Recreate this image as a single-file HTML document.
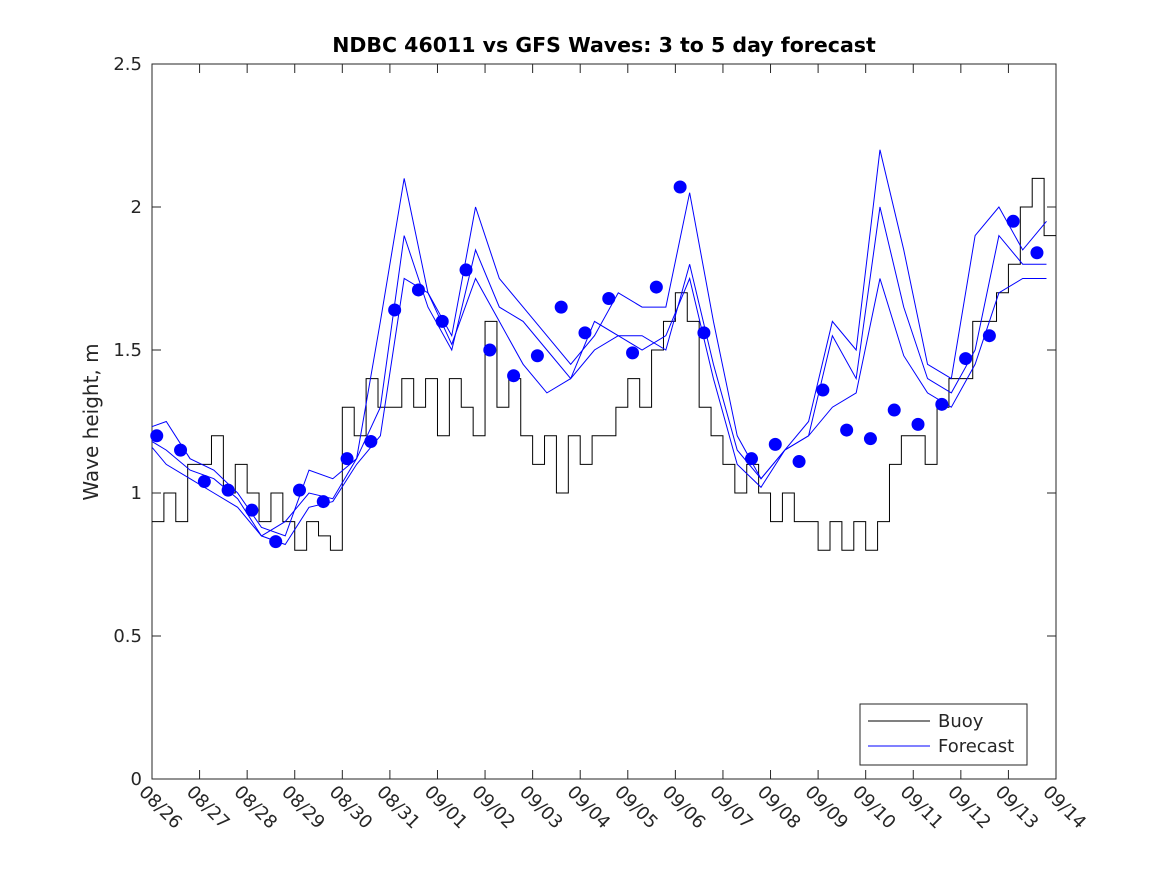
<!DOCTYPE html>
<html><head><meta charset="utf-8"><style>
body{margin:0;background:#fff;}
svg text{font-family:"DejaVu Sans","Liberation Sans",sans-serif;fill:#262626;}
</style></head><body>
<svg id="chart" width="1167" height="875">
<rect width="1167" height="875" fill="#fff"/>
<defs><clipPath id="clip"><rect x="152" y="64" width="904" height="715"/></clipPath></defs>
<text x="604" y="52" text-anchor="middle" font-size="20.5" font-weight="bold" style="fill:#000">NDBC 46011 vs GFS Waves: 3 to 5 day forecast</text>
<text transform="translate(98,422) rotate(-90)" text-anchor="middle" font-size="20">Wave height, m</text>
<g id="plot"></g>
</svg>
<script>
const dateLabels=["08/26","08/27","08/28","08/29","08/30","08/31","09/01","09/02","09/03","09/04","09/05","09/06","09/07","09/08","09/09","09/10","09/11","09/12","09/13","09/14"];
const yTicks=[0,0.5,1,1.5,2,2.5];
const buoy=[0.9,1.0,0.9,1.1, 1.1,1.2,1.0,1.1, 1.0,0.9,1.0,0.9, 0.8,0.9,0.85,0.8, 1.3,1.2,1.4,1.3, 1.3,1.4,1.3,1.4, 1.2,1.4,1.3,1.2, 1.6,1.3,1.4,1.2, 1.1,1.2,1.0,1.2, 1.1,1.2,1.2,1.3, 1.4,1.3,1.5,1.6, 1.7,1.6,1.3,1.2, 1.1,1.0,1.1,1.0, 0.9,1.0,0.9,0.9, 0.8,0.9,0.8,0.9, 0.8,0.9,1.1,1.2, 1.2,1.1,1.3,1.4, 1.4,1.6,1.6,1.7, 1.8,2.0,2.1,1.9];
const fcA=[1.22,1.25,1.12,1.08,1.0,0.88,0.85,1.08,1.05,1.12,1.6,2.1,1.7,1.55,2.0,1.75,1.65,1.55,1.45,1.55,1.70,1.65,1.65,2.05,1.6,1.2,1.05,1.15,1.25,1.6,1.5,2.2,1.85,1.45,1.4,1.9,2.0,1.85,1.95];
const fcB=[1.2,1.15,1.08,1.05,0.98,0.85,0.90,1.0,0.98,1.12,1.3,1.9,1.65,1.5,1.85,1.65,1.6,1.5,1.4,1.6,1.55,1.55,1.5,1.8,1.45,1.15,1.05,1.15,1.2,1.55,1.4,2.0,1.65,1.4,1.35,1.5,1.9,1.8,1.8];
const fcC=[1.2,1.1,1.05,1.0,0.95,0.85,0.82,0.95,0.97,1.1,1.2,1.75,1.7,1.52,1.75,1.6,1.45,1.35,1.4,1.5,1.55,1.5,1.55,1.75,1.4,1.1,1.02,1.15,1.2,1.3,1.35,1.75,1.48,1.35,1.3,1.45,1.7,1.75,1.75];
const dots=[1.20,1.15,1.04,1.01,0.94,0.83,1.01,0.97,1.12,1.18,1.64,1.71,1.60,1.78,1.50,1.41,1.48,1.65,1.56,1.68,1.49,1.72,2.07,1.56,null,1.12,1.17,1.11,1.36,1.22,1.19,1.29,1.24,1.31,1.47,1.55,1.95,1.84];
const fcStart=-0.2;
const X0=152,X1=1056,Y0=779,Y1=64;
const xs=d=>X0+(X1-X0)*d/19, ys=v=>Y0-(Y0-Y1)*v/2.5;
const NS="http://www.w3.org/2000/svg", g=document.getElementById('plot');
function mk(t,a){const e=document.createElementNS(NS,t);for(const k in a)e.setAttribute(k,a[k]);g.appendChild(e);return e;}
let e=mk('rect',{x:X0,y:Y1,width:X1-X0,height:Y0-Y1,fill:'none',stroke:'#262626','stroke-width':1});


yTicks.forEach(v=>{const y=ys(v);
mk('line',{x1:X0,x2:X0+9,y1:y,y2:y,stroke:'#262626'});mk('line',{x1:X1,x2:X1-9,y1:y,y2:y,stroke:'#262626'});
const t=mk('text',{x:X0-10,y:y+6,'text-anchor':'end','font-size':18});t.textContent=v;

});
dateLabels.forEach((s,i)=>{const x=xs(i);
mk('line',{x1:x,x2:x,y1:Y0,y2:Y0-9,stroke:'#262626'});mk('line',{x1:x,x2:x,y1:Y1,y2:Y1+9,stroke:'#262626'});
const t=mk('text',{x:0,y:0,'font-size':18,transform:`translate(${x-14},${Y0+14}) rotate(45)`});t.textContent=s;

});
let d='';buoy.forEach((v,i)=>{const x=xs(i*0.25),y=ys(v);d+=(i?`H${x}V${y}`:`M${x},${y}`);});d+=`H${xs(buoy.length*0.25)}`;
e=mk('path',{d:d,fill:'none',stroke:'#000','stroke-width':1});


[fcA,fcB,fcC].forEach((arr,j)=>{const p=arr.map((v,i)=>`${i?'L':'M'}${xs(fcStart+i*0.5)},${ys(v)}`).join('');
const l=mk('path',{d:p,fill:'none',stroke:'#0000ff','stroke-width':1,'clip-path':'url(#clip)'});

});
dots.forEach((v,i)=>{if(v==null)return;const c=mk('circle',{cx:xs(0.1+0.5*i),cy:ys(v),r:6.5,fill:'#0000ff'});

});
const lg=mk('rect',{x:860,y:704,width:167,height:61,fill:'#fff',stroke:'#262626'});


mk('line',{x1:868,x2:930,y1:721,y2:721,stroke:'#000'});
mk('line',{x1:868,x2:930,y1:746,y2:746,stroke:'#0000ff'});
let t1=mk('text',{x:938,y:727,'font-size':18});t1.textContent='Buoy';


let t2=mk('text',{x:938,y:752,'font-size':18});t2.textContent='Forecast';


</script>
</body></html>
